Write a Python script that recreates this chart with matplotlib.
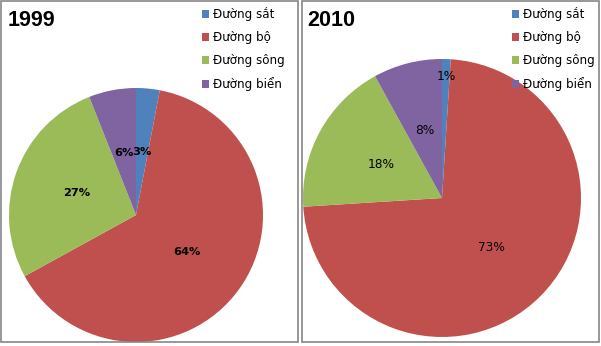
import matplotlib
matplotlib.use("Agg")
import matplotlib.pyplot as plt
from matplotlib.patches import Rectangle

# data ----------------------------------------------------------------------
categories = ["Đường sắt", "Đường bộ", "Đường sông", "Đường biển"]
years = ["1999", "2010"]
share_1999 = [3, 64, 27, 6]
share_2010 = [1, 73, 18, 8]
colors = ["#4F81BD", "#C0504D", "#9BBB59", "#8064A2"]

W, H = 601, 346
fig = plt.figure(figsize=(W / 100, H / 100), dpi=100)
fig.patch.set_facecolor("white")


def px_box(x0, y0, x1, y1):
    # pixel box (top-left origin) -> figure fraction [l, b, w, h]
    return [x0 / W, 1 - y1 / H, (x1 - x0) / W, (y1 - y0) / H]


# panel frames
for x0, x1 in [(1, 298), (302, 599)]:
    l, b, w, h = px_box(x0, 1, x1, 342)
    fig.patches.append(Rectangle((l, b), w, h, transform=fig.transFigure,
                                 fill=False, edgecolor="#868686", linewidth=1.2))

panels = [
    # year, values, pie centre/radius (px), bold labels, title x, legend x
    (years[0], share_1999, (136, 215, 127), True, 8, 202),
    (years[1], share_2010, (442, 198, 139), False, 307, 512),
]

for year, vals, (cx, cy, r), bold, tx, lx in panels:
    ax = fig.add_axes(px_box(cx - r, cy - r, cx + r, cy + r))
    wedges, texts, autotexts = ax.pie(
        vals, colors=colors, startangle=90, counterclock=False,
        autopct="%d%%", pctdistance=0.5, radius=1,
        wedgeprops=dict(linewidth=0),
        textprops=dict(fontsize=8.2 if bold else 8.7, family="DejaVu Sans",
                       fontweight="bold" if bold else "normal"))
    for t, v in zip(autotexts, vals):
        t.set_text("%d%%" % v)
        if v < 2:  # tiny slice: label pushed outward
            x, y = t.get_position()
            t.set_position((x * 1.75, y * 1.75))
    ax.set_xlim(-1, 1)
    ax.set_ylim(-1, 1)
    ax.axis("off")

    fig.text(tx / W, 1 - 20 / H, year, fontsize=15.5, fontweight="bold",
             family="Liberation Sans", va="center", ha="left")

    fig.legend(wedges, categories, loc="upper left",
               bbox_to_anchor=(lx / W, 1 - 7 / H), frameon=False,
               borderaxespad=0, borderpad=0, handlelength=0.6,
               handleheight=0.6, handletextpad=0.3, labelspacing=0.85,
               prop=dict(family="DejaVu Sans", size=8.6))

fig.savefig("out.png", dpi=100, facecolor="white")
